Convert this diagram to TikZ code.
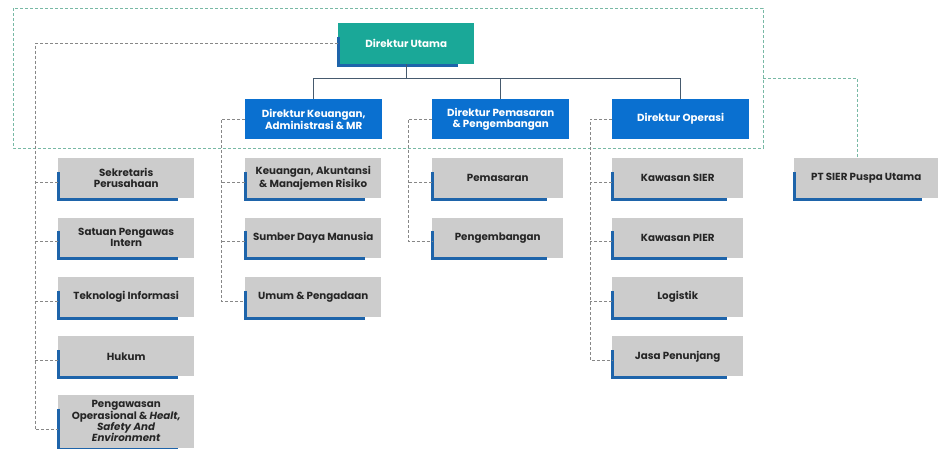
\documentclass[tikz,border=0pt]{standalone}
\usepackage{fontspec}
\setmainfont{Poppins}
\usetikzlibrary{positioning}
\definecolor{tosca}{RGB}{26,168,152}
\definecolor{dirblue}{RGB}{10,112,208}
\definecolor{accblue}{RGB}{30,100,170}
\definecolor{unitgray}{RGB}{204,204,204}
\definecolor{linegray}{RGB}{135,135,135}
\definecolor{grpgreen}{RGB}{120,185,165}
\definecolor{treeblue}{RGB}{70,90,110}

\begin{document}
\begin{tikzpicture}[
x=1pt, y=-1pt,
font=\fontsize{10.3}{11}\selectfont\bfseries,
utbox/.style={rectangle, align=center, fill=tosca, text=white,
minimum width=136pt, minimum height=41pt, inner sep=0pt, anchor=north west},
dirbox/.style={rectangle, align=center, fill=dirblue, text=white,
minimum width=137pt, minimum height=40pt, inner sep=0pt, anchor=north west},
unitbox/.style={rectangle, align=center, fill=unitgray, text=black!85,
minimum width=136pt, minimum height=40pt, inner sep=0pt},
accent/.style={draw=accblue, line width=3pt},
solidln/.style={draw=treeblue, line width=0.8pt},
dashln/.style={draw=linegray, line width=0.7pt, dash pattern=on 3pt off 2pt},
grpln/.style={draw=grpgreen, line width=0.7pt, dash pattern=on 3pt off 2pt},
node distance=19pt]

\useasboundingbox (0,0) rectangle (944,448);

% kotak grup direksi
\draw[grpln] (13,8) rectangle (763,148);

\node[utbox] (utama) at (338,23) {Direktur Utama};
\node[dirbox] (dkeu) at (245,99) {Direktur Keuangan,\\Administrasi \& MR};
\node[dirbox] (dpem) at (432,99) {Direktur Pemasaran\\\& Pengembangan};
\node[dirbox] (dops) at (612,99) {Direktur Operasi};

% unit di bawah Direktur Utama
\node[unitbox, anchor=north west] (sek) at (58,158) {Sekretaris\\Perusahaan};
\node[unitbox, below=of sek] (spi) {Satuan Pengawas\\Intern};
\node[unitbox, below=of spi] (ti) {Teknologi Informasi};
\node[unitbox, below=of ti] (huk) {Hukum};
\node[unitbox, below=18pt of huk, minimum height=53pt] (hse) {Pengawasan\\Operasional \& \textit{Healt,}\\\textit{Safety And}\\\textit{Environment}};

% unit keuangan
\node[unitbox, anchor=north west] (keu) at (245,158) {Keuangan, Akuntansi\\\& Manajemen Risiko};
\node[unitbox, below=of keu] (sdm) {Sumber Daya Manusia};
\node[unitbox, below=of sdm] (umum) {Umum \& Pengadaan};

% unit pemasaran
\node[unitbox, anchor=north west, minimum width=131pt] (psr) at (432,158) {Pemasaran};
\node[unitbox, below=of psr, minimum width=131pt] (pgb) {Pengembangan};

% unit operasi
\node[unitbox, anchor=north west, minimum width=131pt] (kws) at (612,158) {Kawasan SIER};
\node[unitbox, below=of kws, minimum width=131pt] (pier) {Kawasan PIER};
\node[unitbox, below=of pier, minimum width=131pt] (log) {Logistik};
\node[unitbox, below=of log, minimum width=131pt] (jasa) {Jasa Penunjang};

\node[unitbox, anchor=north west, minimum width=144pt] (ptsier) at (794,158) {PT SIER Puspa Utama};

% aksen biru
\foreach \n in {utama,sek,spi,ti,huk,hse,keu,sdm,umum,psr,pgb,kws,pier,log,jasa,ptsier}
  \draw[accent] ([yshift=-14pt]\n.north west) -- ([yshift=-1pt]\n.south west) -- ([xshift=-16pt,yshift=-1pt]\n.south east);

% garis struktur
\draw[solidln] (utama.south) -- ++(0,14) -| (dkeu.north);
\draw[solidln] (utama.south) -- ++(0,14) -| (dpem.north);
\draw[solidln] (utama.south) -- ++(0,14) -| (dops.north);

% garis staf
\draw[dashln] (utama.west) -| ([xshift=-23pt,yshift=-8pt]hse.west) -- ([yshift=-8pt]hse.west);
\foreach \n in {sek,spi,ti,huk}
  \draw[dashln] ([yshift=-4pt]\n.west) -- ++(-23,0);

\draw[dashln] (dkeu.west) -| ([xshift=-24pt,yshift=-4pt]umum.west) -- ([yshift=-4pt]umum.west);
\foreach \n in {keu,sdm}
  \draw[dashln] ([yshift=-4pt]\n.west) -- ++(-24,0);

\draw[dashln] (dpem.west) -| ([xshift=-24pt,yshift=-4pt]pgb.west) -- ([yshift=-4pt]pgb.west);
\draw[dashln] ([yshift=-4pt]psr.west) -- ++(-24,0);

\draw[dashln] (dops.west) -| ([xshift=-22pt,yshift=-4pt]jasa.west) -- ([yshift=-4pt]jasa.west);
\foreach \n in {kws,pier,log}
  \draw[dashln] ([yshift=-4pt]\n.west) -- ++(-22,0);

% anak perusahaan
\coordinate (grpkanan) at (763,78);
\draw[grpln] (grpkanan) -| ([xshift=-9pt]ptsier.north);
\end{tikzpicture}
\end{document}
